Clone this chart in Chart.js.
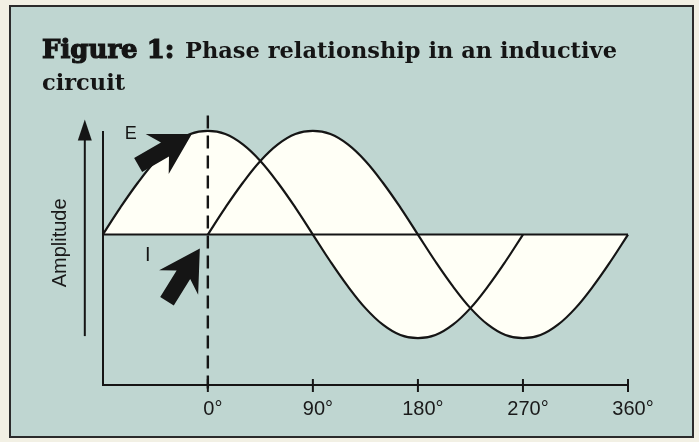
<!DOCTYPE html>
<html><head><meta charset="utf-8">
<script src="https://cdn.jsdelivr.net/npm/chart.js@4.4.1/dist/chart.umd.min.js"></script>
<style>html,body{margin:0;padding:0;background:#f2f0e4;} canvas{display:block;}</style>
</head><body>
<canvas id="c" width="699" height="442"></canvas>
<script>
// ---- data ----
const angles = [-90,-75,-60,-45,-30,-15,0,15,30,45,60,75,90,105,120,135,150,165,180,195,210,225,240,255,270,285,300,315,330,345,360];
const eValues = [0,0.26,0.5,0.71,0.87,0.97,1,0.97,0.87,0.71,0.5,0.26,0,-0.26,-0.5,-0.71,-0.87,-0.97,-1,-0.97,-0.87,-0.71,-0.5,-0.26,0,null,null,null,null,null,null];
const iValues = [null,null,null,null,null,null,0,0.26,0.5,0.71,0.87,0.97,1,0.97,0.87,0.71,0.5,0.26,0,-0.26,-0.5,-0.71,-0.87,-0.97,-1,-0.97,-0.87,-0.71,-0.5,-0.26,0];
const xTickValues = [0,90,180,270,360];
const seriesNames = ['E','I'];
const titleBold = 'Figure 1:';
const titleRest = 'Phase relationship in an inductive';
const titleLine2 = 'circuit';
const yTitle = 'Amplitude';

const INK = '#151515';
const FILL = '#fffff6';

function pts(vals){ return angles.map((a,k)=>({x:a,y:vals[k]})).filter(p=>p.y!==null); }

function drawArrow(ctx, tipX, tipY, angleDeg, len){
  ctx.save();
  ctx.translate(tipX, tipY);
  ctx.rotate(angleDeg*Math.PI/180);
  ctx.beginPath();
  ctx.moveTo(0,0);
  ctx.lineTo(-40,-23);
  ctx.lineTo(-31,-8);
  ctx.lineTo(-len,-8);
  ctx.lineTo(-len,8);
  ctx.lineTo(-31,8);
  ctx.lineTo(-40,23);
  ctx.closePath();
  ctx.fill();
  ctx.restore();
}

const decor = {
  id:'decor',
  beforeDraw(chart){
    const ctx = chart.ctx;
    ctx.save();
    ctx.fillStyle = '#f2f0e4'; ctx.fillRect(0,0,chart.width,chart.height);
    ctx.fillStyle = '#bfd6d1'; ctx.fillRect(10,6,683,431);
    ctx.strokeStyle = '#2b2b2b'; ctx.lineWidth = 2; ctx.strokeRect(10,6,683,431);
    ctx.fillStyle = INK; ctx.strokeStyle = INK;
    ctx.textBaseline = 'alphabetic'; ctx.textAlign = 'left';
    ctx.font = 'bold 26px "DejaVu Serif"';
    ctx.lineWidth = 1.2;
    ctx.fillText(titleBold, 42, 58); ctx.strokeText(titleBold, 42, 58);
    const w = ctx.measureText(titleBold).width;
    ctx.font = 'bold 22.5px "DejaVu Serif"';
    ctx.fillText(titleRest, Math.max(185, 42 + w + 6), 58);
    ctx.fillText(titleLine2, 42, 90);
    ctx.restore();
  },
  afterDatasetsDraw(chart){
    const ctx = chart.ctx, xs = chart.scales.x, ys = chart.scales.y, ca = chart.chartArea;
    ctx.save();
    ctx.strokeStyle = INK; ctx.fillStyle = INK; ctx.lineWidth = 2;
    // zero line
    ctx.beginPath();
    ctx.moveTo(xs.getPixelForValue(-90), ys.getPixelForValue(0));
    ctx.lineTo(xs.getPixelForValue(360), ys.getPixelForValue(0));
    ctx.stroke();
    // dashed line at 0 deg
    ctx.save();
    ctx.setLineDash([13,7]); ctx.lineWidth = 2.4;
    ctx.beginPath();
    const x0 = xs.getPixelForValue(0);
    ctx.moveTo(x0, ys.getPixelForValue(1.15));
    ctx.lineTo(x0, ca.bottom + 4);
    ctx.stroke();
    ctx.restore();
    // tick marks crossing the axis
    xTickValues.forEach(v=>{
      const x = xs.getPixelForValue(v);
      ctx.beginPath(); ctx.moveTo(x, ca.bottom-6); ctx.lineTo(x, ca.bottom+7); ctx.stroke();
    });
    // amplitude arrow
    const ax = ca.left - 18;
    const yTop = ys.getPixelForValue(1.11), yBot = ys.getPixelForValue(-0.98);
    ctx.beginPath(); ctx.moveTo(ax, yBot); ctx.lineTo(ax, yTop + 15); ctx.stroke();
    ctx.beginPath(); ctx.moveTo(ax, yTop); ctx.lineTo(ax-7, yTop+21); ctx.lineTo(ax+7, yTop+21); ctx.closePath(); ctx.fill();
    // axis title
    ctx.save();
    ctx.translate(ca.left - 42, ys.getPixelForValue(-0.08));
    ctx.rotate(-Math.PI/2);
    ctx.font = '20px "Liberation Sans"'; ctx.textAlign = 'center'; ctx.textBaseline = 'middle';
    ctx.fillStyle = '#1a1a1a';
    ctx.fillText(yTitle, 0, 0);
    ctx.restore();
    // pointer arrows
    const eX = xs.getPixelForValue(0), eY = ys.getPixelForValue(1);
    const iX = xs.getPixelForValue(0), iY = ys.getPixelForValue(0);
    drawArrow(ctx, eX - 16, eY + 3, -30, 62);
    drawArrow(ctx, iX - 8, iY + 14, -58, 62);
    // series labels
    ctx.font = '18px "Liberation Sans"'; ctx.textAlign = 'center'; ctx.textBaseline = 'middle';
    ctx.fillText(seriesNames[0], eX - 77, eY + 3);
    ctx.font = '20px "Liberation Sans"';
    ctx.fillText(seriesNames[1], iX - 60, iY + 21);
    ctx.restore();
  }
};

const lineStyle = {borderColor: INK, borderWidth: 2.2, pointRadius: 0, tension: 0.4, fill: 'origin', backgroundColor: FILL, clip: false};

new Chart(document.getElementById('c'), {
  type: 'line',
  data: {
    datasets: [
      Object.assign({label: seriesNames[0], data: pts(eValues)}, lineStyle),
      Object.assign({label: seriesNames[1], data: pts(iValues)}, lineStyle)
    ]
  },
  options: {
    responsive: false, animation: false, devicePixelRatio: 1, events: [],
    layout: {padding: {left: 102.8, right: 71, top: 132, bottom: 9}},
    plugins: {legend: {display: false}, tooltip: {enabled: false}, title: {display: false}, filler: {drawTime: 'beforeDatasetsDraw'}},
    scales: {
      x: {
        type: 'linear', min: -90, max: 360,
        afterBuildTicks: s => { s.ticks = xTickValues.map(v => ({value: v})); },
        ticks: {callback: v => v + '°', font: {family: '"Liberation Sans"', size: 20}, color: '#1a1a1a', padding: 12, maxRotation: 0, autoSkip: false, labelOffset: 5},
        grid: {display: true, drawOnChartArea: false, drawTicks: false},
        border: {display: true, color: INK, width: 2}
      },
      y: {
        min: -1.452, max: 0.99,
        ticks: {display: false},
        grid: {display: true, drawOnChartArea: false, drawTicks: false},
        border: {display: true, color: INK, width: 2},
        title: {display: false, text: yTitle}
      }
    }
  },
  plugins: [decor]
});
</script>
</body></html>
